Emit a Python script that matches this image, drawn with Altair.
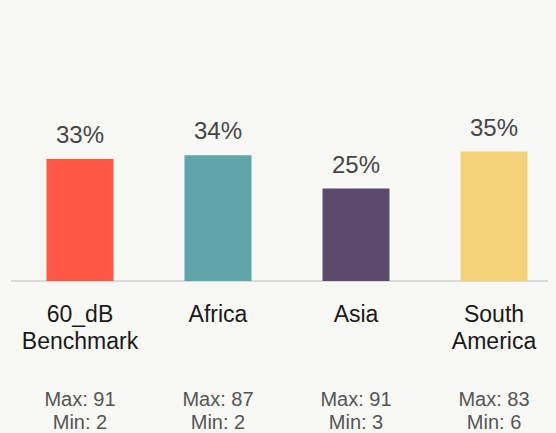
import altair as alt
import pandas as pd

categories = ["60_dB\nBenchmark", "Africa", "Asia", "South\nAmerica"]
shares = [33, 34, 25, 35]
max_values = [91, 87, 91, 83]
min_values = [2, 2, 3, 6]
colors = ["#FF5745", "#5FA5AA", "#5B4A6D", "#F4D378"]

BG = "#F8F8F5"

df = pd.DataFrame({
    "cat": categories,
    "share": shares,
    "max": max_values,
    "min": min_values,
    "color": colors,
})
df["label"] = df["share"].astype(str) + "%"
df["range"] = "Max: " + df["max"].astype(str) + "\nMin: " + df["min"].astype(str)

FONT = "Liberation Sans"

x = alt.X(
    "cat:N", sort=categories, axis=None,
    scale=alt.Scale(paddingInner=0.5145, paddingOuter=0.257, range=[0, 552]),
)
y = alt.Y("share:Q", axis=None, scale=alt.Scale(domain=[0, 73.8]))

base = alt.Chart(df)

bars = base.mark_bar().encode(x=x, y=y, color=alt.Color("color:N", scale=None))

labels = base.mark_text(
    fontSize=24, dy=-16, baseline="alphabetic", color="#454545", font=FONT
).encode(x=x, y=y, text="label:N")

cat_text = base.mark_text(
    fontSize=23, lineBreak="\n", lineHeight=27, baseline="alphabetic",
    color="#1a1a1a", font=FONT,
).encode(x=x, y=alt.value(313.7), text="cat:N")

rng_text = base.mark_text(
    fontSize=20, lineBreak="\n", lineHeight=23, baseline="alphabetic",
    color="#555555", font=FONT,
).encode(x=x, y=alt.value(398), text="range:N")

rule = alt.Chart(pd.DataFrame({"zero": [0]})).mark_rule(
    color="#DADADA", strokeWidth=2
).encode(x=alt.value(0), x2=alt.value(560), y=alt.Y("zero:Q", scale=alt.Scale(domain=[0, 73.8]), axis=None))

chart = alt.layer(rule, bars, labels, cat_text, rng_text).properties(
    width=537,
    height=273,
    padding={"left": 3, "top": 0, "right": 0, "bottom": 152},
    autosize="none",
    background=BG,
).configure_view(stroke=None)

# page background matching the chart background
try:
    import altair.utils.html as _alt_html
    _orig_tpl = _alt_html.TEMPLATES["standard"]

    class _BgTemplate:
        def render(self, *args, **kwargs):
            out = _orig_tpl.render(*args, **kwargs)
            return out.replace(
                "<style>",
                "<style>\n    body { background: " + BG + "; overflow: hidden; }"
                "\n    .vega-embed svg { overflow: visible; }",
                1,
            )

    _alt_html.TEMPLATES["standard"] = _BgTemplate()
except Exception:
    pass

chart.save("out.html", embed_options={"renderer": "svg", "actions": False})
